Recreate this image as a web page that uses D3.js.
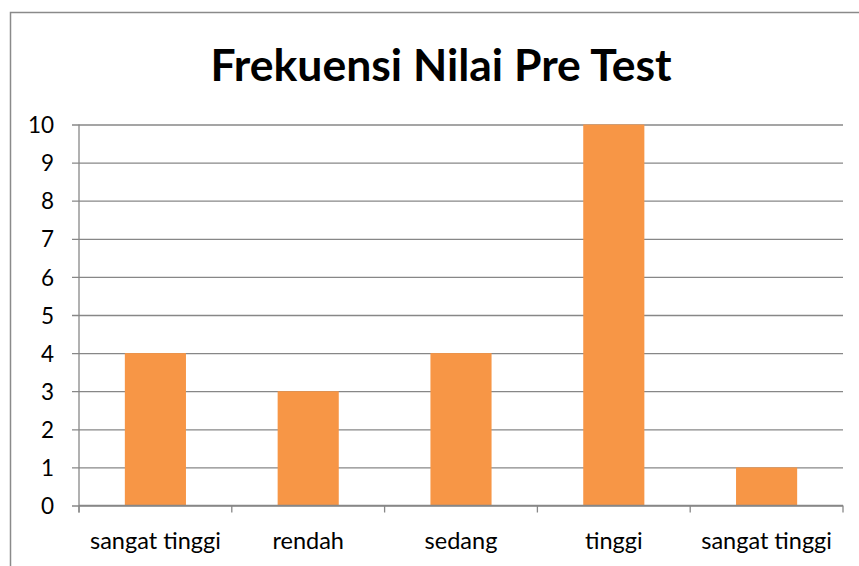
<!DOCTYPE html>
<html>
<head>
<meta charset="utf-8">
<script src="https://cdn.jsdelivr.net/npm/d3@7"></script>
<style>
  body { margin: 0; background: #fff; }
</style>
</head>
<body>
<div id="chart"></div>
<script>
const categories = ["sangat tinggi", "rendah", "sedang", "tinggi", "sangat tinggi"];
const values = [4, 3, 4, 10, 1];
const yTicks = [0, 1, 2, 3, 4, 5, 6, 7, 8, 9, 10];
const title = "Frekuensi Nilai Pre Test";

const data = categories.map((c, i) => ({ key: i, label: c, value: values[i] }));

const svg = d3.select("#chart")
  .append("svg")
  .attr("width", 859)
  .attr("height", 566)
  .style("background-color", "#fff");

// outer chart border (right and bottom edges fall outside the picture)
svg.append("rect")
  .attr("x", 10.5)
  .attr("y", 12.5)
  .attr("width", 900)
  .attr("height", 600)
  .attr("fill", "none")
  .attr("stroke", "#8a8a8a")
  .attr("stroke-width", 1.5);

const plotLeft = 79, plotRight = 843, plotTop = 124.5, plotBottom = 505.5;

const xScale = d3.scaleBand()
  .domain(data.map(d => d.key))
  .range([plotLeft, plotRight]);

const yScale = d3.scaleLinear()
  .domain([0, 10])
  .range([plotBottom, plotTop]);

// gridlines + y axis
const yAxis = d3.axisLeft(yScale)
  .tickValues(yTicks)
  .tickSize(-(plotRight - plotLeft))
  .tickPadding(0);

const yAxisGroup = svg.append("g")
  .attr("transform", `translate(${plotLeft},0)`)
  .call(yAxis);

yAxisGroup.select(".domain").remove();

yAxisGroup.selectAll(".tick line")
  .attr("x1", -7)
  .attr("stroke", "#878787")
  .attr("stroke-width", 1.3);

yAxisGroup.selectAll(".tick text")
  .attr("x", -25)
  .attr("dy", "0.36em")
  .attr("fill", "#000")
  .attr("font-family", "Lato")
  .attr("font-size", 22.5)
  .attr("text-anchor", "end");

// vertical axis line
svg.append("line")
  .attr("x1", plotLeft).attr("x2", plotLeft)
  .attr("y1", plotTop).attr("y2", plotBottom + 7)
  .attr("stroke", "#878787")
  .attr("stroke-width", 1.3);

// bars
const barWidth = xScale.bandwidth() * 0.4;
svg.selectAll("rect.bar")
  .data(data)
  .join("rect")
  .attr("class", "bar")
  .attr("x", d => xScale(d.key) + (xScale.bandwidth() - barWidth) / 2)
  .attr("y", d => yScale(d.value))
  .attr("width", barWidth)
  .attr("height", d => yScale(0) - yScale(d.value))
  .attr("fill", "#f79646");

// x axis
const xAxisGroup = svg.append("g")
  .attr("transform", `translate(0,${plotBottom})`);

xAxisGroup.append("line")
  .attr("x1", plotLeft).attr("x2", plotRight)
  .attr("stroke", "#878787")
  .attr("stroke-width", 1.3);

xAxisGroup.selectAll("line.cat-tick")
  .data(d3.range(categories.length + 1))
  .join("line")
  .attr("class", "cat-tick")
  .attr("x1", i => plotLeft + i * xScale.bandwidth())
  .attr("x2", i => plotLeft + i * xScale.bandwidth())
  .attr("y1", 0)
  .attr("y2", 7)
  .attr("stroke", "#878787")
  .attr("stroke-width", 1.3);

xAxisGroup.selectAll("text.cat-label")
  .data(data)
  .join("text")
  .attr("class", "cat-label")
  .text(d => d.label)
  .attr("x", d => xScale(d.key) + xScale.bandwidth() / 2)
  .attr("y", 43.5)
  .attr("text-anchor", "middle")
  .attr("fill", "#000")
  .attr("font-family", "Lato")
  .attr("font-size", 23.5);

// title
svg.append("text")
  .text(title)
  .attr("x", 441)
  .attr("y", 81)
  .attr("text-anchor", "middle")
  .attr("fill", "#000")
  .attr("font-family", "Lato")
  .attr("font-weight", 700)
  .attr("font-size", 44.5);
</script>
</body>
</html>
